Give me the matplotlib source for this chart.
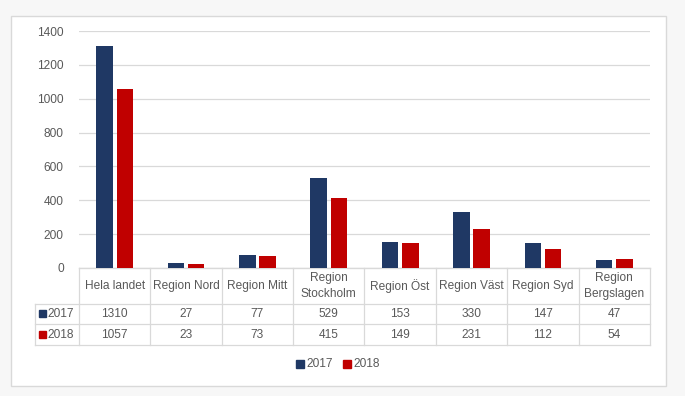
import matplotlib.pyplot as plt
from matplotlib.patches import Rectangle

categories = ["Hela landet", "Region Nord", "Region Mitt", "Region\nStockholm",
              "Region Öst", "Region Väst", "Region Syd", "Region\nBergslagen"]
series_names = ["2017", "2018"]
values_2017 = [1310, 27, 77, 529, 153, 330, 147, 47]
values_2018 = [1057, 23, 73, 415, 149, 231, 112, 54]
y_ticks = [0, 200, 400, 600, 800, 1000, 1200, 1400]

C17 = "#1F3864"
C18 = "#C00000"
GRID = "#D9D9D9"
TXT = "#595959"
FONT = "Liberation Sans"
FS = 8.6

W, H = 685, 396
fig = plt.figure(figsize=(W / 100, H / 100), dpi=100)
fig.patch.set_facecolor("#F7F7F7")

# full-figure overlay in pixel coords for border, table and legend
ov = fig.add_axes([0, 0, 1, 1])
ov.set_xlim(0, W)
ov.set_ylim(H, 0)
ov.axis("off")
ov.add_patch(Rectangle((11, 16), 655, 370, facecolor="white", edgecolor=GRID, lw=1, zorder=0))

# main plot area
x0, x1, ytop, ybot = 79, 650, 31, 268
ax = fig.add_axes([x0 / W, 1 - ybot / H, (x1 - x0) / W, (ybot - ytop) / H])
ax.set_facecolor("none")
n = len(categories)
idx = list(range(n))
bw = 0.23
off = 0.142
ax.bar([i - off for i in idx], values_2017, width=bw, color=C17, zorder=3)
ax.bar([i + off for i in idx], values_2018, width=bw, color=C18, zorder=3)
ax.set_xlim(-0.5, n - 0.5)
ax.set_ylim(0, 1400)
ax.set_yticks(y_ticks)
ax.set_yticklabels([str(t) for t in y_ticks], fontsize=FS, color=TXT, family=FONT)
ax.tick_params(axis="y", length=0, pad=11)
ax.set_xticks([])
ax.grid(axis="y", color=GRID, lw=0.9, zorder=0)
for s in ["top", "right", "left"]:
    ax.spines[s].set_visible(False)
ax.spines["bottom"].set_color(GRID)

# data table under the axis
tl = 35
rows = [268, 304, 324, 345]
cw = (x1 - x0) / n
lc = dict(color=GRID, lw=0.9)
ov.plot([x0, x1], [rows[0], rows[0]], **lc)
for r in rows[1:]:
    ov.plot([tl, x1], [r, r], **lc)
ov.plot([tl, tl], [rows[1], rows[3]], **lc)
for i in range(n + 1):
    xx = x0 + i * cw
    ov.plot([xx, xx], [rows[0], rows[3]], **lc)

for i, cat in enumerate(categories):
    cx = x0 + (i + 0.5) * cw
    ov.text(cx, (rows[0] + rows[1]) / 2, cat, ha="center", va="center",
            fontsize=FS, color=TXT, family=FONT, linespacing=1.4)
    ov.text(cx, (rows[1] + rows[2]) / 2, str(values_2017[i]), ha="center", va="center",
            fontsize=FS, color=TXT, family=FONT)
    ov.text(cx, (rows[2] + rows[3]) / 2, str(values_2018[i]), ha="center", va="center",
            fontsize=FS, color=TXT, family=FONT)

for k, (name, col) in enumerate(zip(series_names, [C17, C18])):
    cy = (rows[1 + k] + rows[2 + k]) / 2
    ov.add_patch(Rectangle((39, cy - 4), 7, 7, color=col))
    ov.text(47, cy, name, ha="left", va="center", fontsize=FS, color=TXT, family=FONT)

# legend
ly = 364
for name, col, lx in zip(series_names, [C17, C18], [296, 343]):
    ov.add_patch(Rectangle((lx, ly - 4), 8, 8, color=col))
    ov.text(lx + 10, ly, name, ha="left", va="center", fontsize=FS, color=TXT, family=FONT)

fig.savefig("out.png", dpi=100, facecolor=fig.get_facecolor())
